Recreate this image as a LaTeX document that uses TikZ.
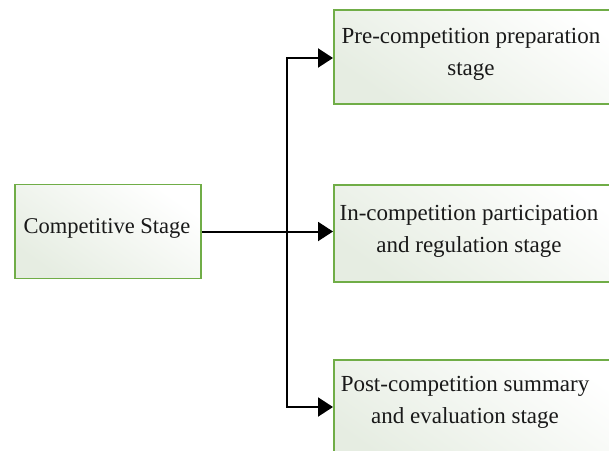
\documentclass[tikz,border=0pt]{standalone}
\usepackage{fontspec}
\setmainfont{Liberation Serif}
\usetikzlibrary{arrows.meta,positioning}
\definecolor{boxgreen}{HTML}{70AD47}
\definecolor{boxfill}{HTML}{E6EDE2}
\tikzset{
  stagebox/.style={draw=boxgreen, line width=1.6pt, rectangle,
    top color=white, bottom color=boxfill, shading angle=-35},
  stagetext/.style={align=center, inner sep=0pt,
    font=\fontsize{23}{32}\selectfont, text=black!90},
  conn/.style={line width=2pt, black},
  arrowconn/.style={conn, -{Triangle[length=15pt,width=19pt]}}
}
\begin{document}
\begin{tikzpicture}[x=1pt,y=-1pt]
  \useasboundingbox (0,0) rectangle (609,450);
  \clip (0,0) rectangle (609,450);
  % main stage on the left
  \node[stagebox, minimum width=186pt, minimum height=94pt] (cs) at (108,231.5) {};
  \node[stagetext, font=\fontsize{22.5}{32}\selectfont] (cstext) at (107,228) {Competitive Stage};
  % three sub-stages on the right (they run past the right edge)
  \node[stagebox, minimum width=300pt, minimum height=94pt, anchor=north west] (pre) at (333,9) {};
  \node[stagetext] (pretext) at (471,54) {Pre-competition preparation\\stage};
  \node[stagebox, minimum width=300pt, minimum height=97pt, anchor=north west] (in) at (333,184) {};
  \node[stagetext] (intext) at (469,231) {In-competition participation\\and regulation stage};
  \node[stagebox, minimum width=300pt, minimum height=110pt, anchor=north west] (post) at (333,359) {};
  \node[stagetext] (posttext) at (465,402) {Post-competition summary\\and evaluation stage};
  % branching connectors
  \coordinate (j) at (287,0 |- cs.east);
  \draw[arrowconn] (cs.east) -- (cs.east -| in.west);
  \draw[arrowconn] (j) -- (j |- 0,58) -- (pre.west |- 0,58);
  \draw[arrowconn] (j) -- (j |- 0,407) -- (post.west |- 0,407);
\end{tikzpicture}
\end{document}
